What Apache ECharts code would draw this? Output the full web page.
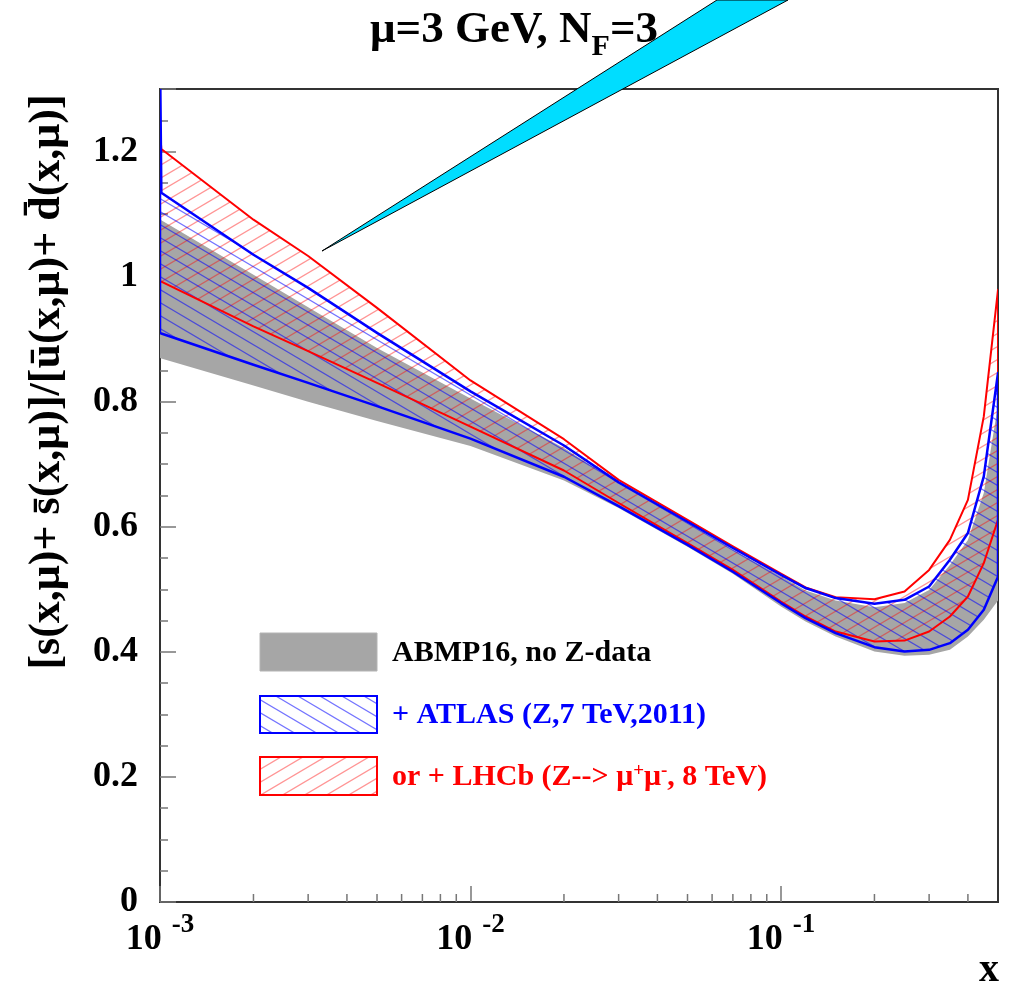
<!DOCTYPE html>
<html>
<head>
<meta charset="utf-8">
<script src="https://cdn.jsdelivr.net/npm/echarts@6.0.0/dist/echarts.min.js"></script>
<style>
html,body{margin:0;padding:0;background:#fff;}
#c{width:1018px;height:994px;}
</style>
</head>
<body>
<div id="c"></div>
<script>
// ---- data ----
const xGrid      = [0.001, 0.00101, 0.002, 0.003, 0.005, 0.01, 0.02, 0.03, 0.05, 0.07, 0.1, 0.12, 0.15, 0.2, 0.25, 0.3, 0.35, 0.4, 0.45, 0.5];
const grayUpper  = [1.091, 1.090, 1.003, 0.951, 0.886, 0.805, 0.726, 0.669, 0.606, 0.563, 0.521, 0.498, 0.482, 0.4715, 0.478, 0.499, 0.539, 0.579, 0.654, 0.795];
const grayLower  = [0.870, 0.869, 0.826, 0.800, 0.769, 0.729, 0.674, 0.630, 0.568, 0.525, 0.4725, 0.4485, 0.4245, 0.4005, 0.3936, 0.3952, 0.4032, 0.4245, 0.4512, 0.482];
const blueUpper  = [1.36, 1.134, 1.035, 0.982, 0.910, 0.8165, 0.730, 0.671, 0.608, 0.566, 0.523, 0.502, 0.486, 0.4768, 0.4832, 0.5045, 0.5472, 0.590, 0.6805, 0.846];
const blueLower  = [0.910, 0.909, 0.859, 0.830, 0.793, 0.741, 0.680, 0.633, 0.571, 0.528, 0.478, 0.454, 0.430, 0.4075, 0.4005, 0.4032, 0.4139, 0.4352, 0.4672, 0.520];
const redUpper   = [1.235, 1.204, 1.091, 1.033, 0.950, 0.834, 0.740, 0.675, 0.611, 0.5685, 0.525, 0.503, 0.4875, 0.484, 0.4965, 0.531, 0.579, 0.643, 0.7765, 0.979];
const redLower   = [0.9925, 0.992, 0.9205, 0.881, 0.830, 0.760, 0.690, 0.638, 0.574, 0.531, 0.4805, 0.4565, 0.4325, 0.4165, 0.418, 0.4325, 0.4565, 0.4885, 0.5419, 0.611];
const xMinorTicks = [0.002,0.003,0.004,0.005,0.006,0.007,0.008,0.009,0.02,0.03,0.04,0.05,0.06,0.07,0.08,0.09,0.2,0.3,0.4];
const legendLabels = ['ABMP16, no Z-data', '+ ATLAS (Z,7 TeV,2011)', 'or + LHCb (Z--> μ{sup|+}μ{sup|-}, 8 TeV)'];
const titleText = '{b|μ=3 GeV, N}{sub|F}{b|=3}';
const yTitle = '[s(x,μ)+ s\u0304(x,μ)]/[u\u0304(x,μ)+ d\u0304(x,μ)]';

const FONT = '"Liberation Serif", "DejaVu Serif", serif';

function hatch(color, dir, lw) {
  const W = 66, H = 39;
  const c = document.createElement('canvas');
  c.width = W; c.height = H;
  const g = c.getContext('2d');
  g.strokeStyle = color; g.lineWidth = lw;
  for (let k = -12; k <= 12; k++) {
    g.beginPath();
    const x0 = -20, x1 = W + 20;
    g.moveTo(x0, dir * x0 * 13 / 22 + k * 13);
    g.lineTo(x1, dir * x1 * 13 / 22 + k * 13);
    g.stroke();
  }
  return { image: c, repeat: 'repeat' };
}
const blueHatch = hatch('rgba(0,0,255,0.55)', 1, 1.2);
const redHatch  = hatch('rgba(255,0,0,0.42)', -1, 1.3);

function bandPoints(api, upper, lower) {
  const top = xGrid.map((x, i) => api.coord([x, upper[i]]));
  const bot = xGrid.map((x, i) => api.coord([x, lower[i]])).reverse();
  return top.concat(bot);
}
function bandFill(upper, lower, fill) {
  return {
    type: 'custom', coordinateSystem: 'cartesian2d', clip: true, silent: true,
    data: [[0.01, 0.5]],
    renderItem: (params, api) => ({
      type: 'polygon', shape: { points: bandPoints(api, upper, lower) },
      style: { fill: fill, stroke: 'none' }
    })
  };
}
function bandLine(upper, lower, stroke, lw) {
  return {
    type: 'custom', coordinateSystem: 'cartesian2d', clip: true, silent: true,
    data: [[0.01, 0.5]],
    renderItem: (params, api) => ({
      type: 'polygon', shape: { points: bandPoints(api, upper, lower) },
      style: { fill: 'none', stroke: stroke, lineWidth: lw, lineJoin: 'round' }
    })
  };
}

const chart = echarts.init(document.getElementById('c'), null, { renderer: 'canvas' });
chart.setOption({
  backgroundColor: '#fff',
  animation: false,
  title: {
    text: titleText, left: 370, top: -2, padding: 0,
    textStyle: {
      rich: {
        b: { fontSize: 45, fontWeight: 'bold', fontFamily: FONT, color: '#000', lineHeight: 64 },
        sub: { fontSize: 30, fontWeight: 'bold', fontFamily: FONT, color: '#000', lineHeight: 30, verticalAlign: 'bottom' }
      }
    }
  },
  grid: { left: 160, right: 20, top: 89, bottom: 92, show: true, borderColor: '#333', borderWidth: 2, containLabel: false },
  xAxis: {
    type: 'log', logBase: 10, min: 0.001, max: 0.5,
    axisLine: { show: false },
    splitLine: { show: false },
    axisTick: { show: true, inside: true, length: 16, lineStyle: { color: '#777', width: 1.5 } },
    axisLabel: {
      margin: 10, showMaxLabel: false,
      formatter: function (v) {
        const e = Math.round(Math.log10(v));
        if (Math.abs(v / Math.pow(10, e) - 1) > 1e-6) return '';
        return '{b|10}{s|' + e + '}';
      },
      rich: {
        b: { fontSize: 36, fontWeight: 'bold', fontFamily: FONT, color: '#000', lineHeight: 56 },
        s: { fontSize: 27, fontWeight: 'bold', fontFamily: FONT, color: '#000', lineHeight: 26, verticalAlign: 'top', padding: [0, 0, 0, 10] }
      }
    }
  },
  yAxis: [
    {
      type: 'value', min: 0, max: 1.3, interval: 0.2,
      axisLine: { show: false }, splitLine: { show: false },
      axisTick: { show: true, inside: true, length: 16, lineStyle: { color: '#777', width: 1.5 } },
      axisLabel: {
        margin: 22, fontSize: 36, fontWeight: 'bold', fontFamily: FONT, color: '#000',
        formatter: v => (v > 1.25 ? '' : String(+v.toFixed(1)))
      }
    },
    {
      type: 'value', min: 0, max: 1.3, interval: 0.05, position: 'left',
      axisLine: { show: false }, splitLine: { show: false },
      axisTick: { show: true, inside: true, length: 8, lineStyle: { color: '#777', width: 1.5 } },
      axisLabel: { show: false }
    }
  ],
  series: [
    bandFill(grayUpper, grayLower, '#a6a6a6'),
    bandFill(redUpper, redLower, redHatch),
    bandFill(blueUpper, blueLower, blueHatch),
    bandLine(redUpper, redLower, '#ff0000', 2),
    bandLine(blueUpper, blueLower, '#0000ff', 2.5),
    {
      type: 'custom', coordinateSystem: 'cartesian2d', silent: true,
      data: xMinorTicks.map(v => [v, 0]),
      renderItem: (params, api) => {
        const p = api.coord([api.value(0), 0]);
        return { type: 'line', shape: { x1: p[0], y1: p[1], x2: p[0], y2: p[1] - 8 },
                 style: { stroke: '#777', lineWidth: 1.5 } };
      }
    }
  ],
  graphic: [
    { type: 'text', x: 48, y: 382, rotation: Math.PI / 2, z: 10,
      style: { text: yTitle, font: 'bold 44px ' + FONT, fill: '#000', align: 'center', verticalAlign: 'middle', textAlign: 'center', textVerticalAlign: 'middle' } },
    { type: 'text', x: 999, y: 991, z: 10,
      style: { text: 'x', font: 'bold 40px ' + FONT, fill: '#000', align: 'right', verticalAlign: 'bottom', textAlign: 'right', textVerticalAlign: 'bottom' } },
    { type: 'rect', shape: { x: 260, y: 633, width: 117, height: 38 }, z: 10, style: { fill: '#a6a6a6', stroke: '#b4b4b4', lineWidth: 1 } },
    { type: 'rect', shape: { x: 260, y: 696, width: 117, height: 37 }, z: 10, style: { fill: blueHatch, stroke: '#0000ff', lineWidth: 2 } },
    { type: 'rect', shape: { x: 260, y: 757, width: 117, height: 38 }, z: 10, style: { fill: redHatch, stroke: '#ff0000', lineWidth: 2 } },
    { type: 'text', x: 392, y: 653, z: 10,
      style: { text: legendLabels[0], font: 'bold 30px ' + FONT, fill: '#000', verticalAlign: 'middle', textVerticalAlign: 'middle' } },
    { type: 'text', x: 392, y: 715, z: 10,
      style: { text: legendLabels[1], font: 'bold 30px ' + FONT, fill: '#0000ff', verticalAlign: 'middle', textVerticalAlign: 'middle' } },
    { type: 'text', x: 392, y: 777, z: 10,
      style: { text: legendLabels[2], font: 'bold 30px ' + FONT, fill: '#ff0000', verticalAlign: 'middle', textVerticalAlign: 'middle',
               rich: { sup: { fontSize: 19, fontWeight: 'bold', fontFamily: FONT, fill: '#ff0000', color: '#ff0000', verticalAlign: 'top', lineHeight: 14 } } } },
    { type: 'polygon', z: 20, shape: { points: [[322, 251], [717, 0], [788, 0]] },
      style: { fill: '#00ddff', stroke: '#000', lineWidth: 1 } }
  ]
});
</script>
</body>
</html>
